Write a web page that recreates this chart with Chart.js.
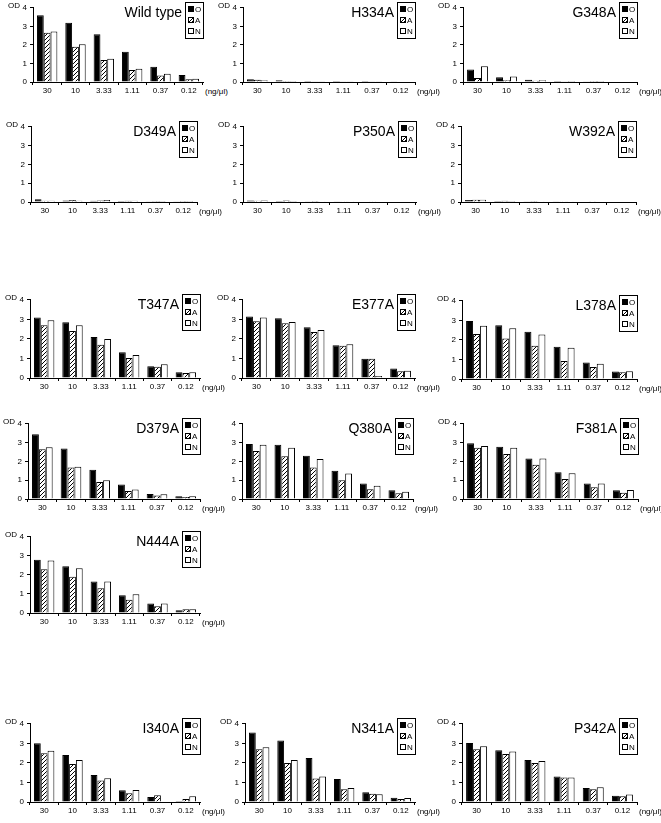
<!DOCTYPE html>
<html><head><meta charset="utf-8">
<script src="https://cdn.jsdelivr.net/npm/chart.js@4/dist/chart.umd.min.js"></script>
<style>
body{margin:0;background:#fff;width:661px;height:823px;position:relative;overflow:hidden;font-family:"Liberation Sans",Arial,sans-serif;color:#000;}
canvas{position:absolute;}
.t{position:absolute;font-size:14px;line-height:15px;white-space:nowrap;}
.od{position:absolute;font-size:8px;line-height:10px;white-space:nowrap;}
.unit{position:absolute;font-size:8px;line-height:10px;white-space:nowrap;}
.lg{position:absolute;border:1px solid #000;background:#fff;font-size:8px;padding:1px 2px 1px 2px;line-height:11px;white-space:nowrap;}
.sw{display:inline-block;width:4px;height:4px;border:1px solid #000;margin-right:1px;vertical-align:0px;}
</style></head><body>
<script>
// ---------- data ----------
const concentrations = ["30","10","3.33","1.11","0.37","0.12"];
const seriesNames = ["O","A","N"];

const wildTypeO = [3.60, 3.20, 2.58, 1.63, 0.82, 0.38];
const wildTypeA = [2.65, 1.90, 1.18, 0.65, 0.35, 0.15];
const wildTypeN = [2.72, 2.03, 1.25, 0.72, 0.45, 0.17];

const h334aO = [0.15, 0.10, 0.05, 0.05, 0.05, 0.04];
const h334aA = [0.12, 0.06, 0.04, 0.04, 0.04, 0.03];
const h334aN = [0.10, 0.05, 0.04, 0.04, 0.04, 0.03];

const g348aO = [0.68, 0.25, 0.12, 0.05, 0.04, 0.03];
const g348aA = [0.22, 0.10, 0.07, 0.04, 0.05, 0.03];
const g348aN = [0.85, 0.30, 0.10, 0.06, 0.06, 0.03];

const d349aO = [0.15, 0.08, 0.06, 0.05, 0.04, 0.04];
const d349aA = [0.07, 0.10, 0.08, 0.06, 0.05, 0.05];
const d349aN = [0.07, 0.07, 0.10, 0.07, 0.05, 0.05];

const p350aO = [0.08, 0.05, 0.04, 0.04, 0.03, 0.03];
const p350aA = [0.07, 0.08, 0.05, 0.04, 0.04, 0.03];
const p350aN = [0.08, 0.05, 0.04, 0.04, 0.03, 0.03];

const w392aO = [0.10, 0.05, 0.04, 0.04, 0.03, 0.03];
const w392aA = [0.12, 0.06, 0.05, 0.04, 0.04, 0.03];
const w392aN = [0.12, 0.05, 0.04, 0.04, 0.03, 0.03];

const t347aO = [3.10, 2.85, 2.10, 1.32, 0.60, 0.30];
const t347aA = [2.70, 2.40, 1.70, 1.02, 0.58, 0.25];
const t347aN = [2.95, 2.70, 2.00, 1.18, 0.70, 0.30];

const e377aO = [3.15, 3.05, 2.60, 1.68, 0.98, 0.48];
const e377aA = [2.90, 2.80, 2.35, 1.65, 0.98, 0.35];
const e377aN = [3.10, 2.87, 2.45, 1.72, 0.10, 0.37];

const l378aO = [2.97, 2.75, 2.42, 1.65, 0.85, 0.38];
const l378aA = [2.30, 2.07, 1.70, 0.92, 0.62, 0.35];
const l378aN = [2.73, 2.60, 2.28, 1.60, 0.78, 0.40];

const d379aO = [3.45, 2.68, 1.55, 0.77, 0.27, 0.15];
const d379aA = [2.65, 1.68, 0.90, 0.42, 0.18, 0.10];
const d379aN = [2.75, 1.72, 1.00, 0.50, 0.25, 0.15];

const q380aO = [2.92, 2.88, 2.30, 1.50, 0.82, 0.47];
const q380aA = [2.55, 2.27, 1.67, 1.00, 0.52, 0.30];
const q380aN = [2.88, 2.73, 2.13, 1.35, 0.70, 0.38];

const f381aO = [2.97, 2.78, 2.15, 1.42, 0.83, 0.47];
const f381aA = [2.72, 2.40, 1.82, 1.07, 0.63, 0.33];
const f381aN = [2.82, 2.73, 2.15, 1.37, 0.83, 0.48];

const n444aO = [2.80, 2.45, 1.65, 0.93, 0.50, 0.15];
const n444aA = [2.30, 1.90, 1.30, 0.70, 0.35, 0.20];
const n444aN = [2.75, 2.35, 1.65, 0.98, 0.50, 0.20];

const i340aO = [3.00, 2.40, 1.38, 0.60, 0.25, 0.05];
const i340aA = [2.50, 1.95, 1.10, 0.45, 0.35, 0.15];
const i340aN = [2.62, 2.15, 1.22, 0.62, 0.02, 0.30];

const n341aO = [3.55, 3.15, 2.25, 1.18, 0.50, 0.22];
const n341aA = [2.70, 2.00, 1.20, 0.65, 0.42, 0.15];
const n341aN = [2.80, 2.15, 1.30, 0.72, 0.40, 0.20];

const p342aO = [3.02, 2.65, 2.15, 1.30, 0.72, 0.32];
const p342aA = [2.70, 2.45, 2.00, 1.25, 0.65, 0.30];
const p342aN = [2.85, 2.58, 2.10, 1.25, 0.75, 0.38];

// ---------- layout (positions only) ----------
const panels = [
  {name:"Wild type", O:wildTypeO, A:wildTypeA, N:wildTypeN, ax:33,  y4:6,   y0:82,  xEnd:203},
  {name:"H334A",     O:h334aO, A:h334aA, N:h334aN, ax:243, y4:6,   y0:82,  xEnd:415},
  {name:"G348A",     O:g348aO, A:g348aA, N:g348aN, ax:463, y4:6,   y0:82,  xEnd:637},
  {name:"D349A",     O:d349aO, A:d349aA, N:d349aN, ax:31,  y4:125, y0:202, xEnd:197},
  {name:"P350A",     O:p350aO, A:p350aA, N:p350aN, ax:243, y4:125, y0:202, xEnd:416},
  {name:"W392A",     O:w392aO, A:w392aA, N:w392aN, ax:461, y4:125, y0:202, xEnd:636},
  {name:"T347A",     O:t347aO, A:t347aA, N:t347aN, ax:30,  y4:298, y0:378, xEnd:200},
  {name:"E377A",     O:e377aO, A:e377aA, N:e377aN, ax:242, y4:298, y0:378, xEnd:415},
  {name:"L378A",     O:l378aO, A:l378aA, N:l378aN, ax:462, y4:299, y0:379, xEnd:637},
  {name:"D379A",     O:d379aO, A:d379aA, N:d379aN, ax:28,  y4:422, y0:499, xEnd:200},
  {name:"Q380A",     O:q380aO, A:q380aA, N:q380aN, ax:242, y4:422, y0:499, xEnd:413, noOD:true},
  {name:"F381A",     O:f381aO, A:f381aA, N:f381aN, ax:463, y4:422, y0:499, xEnd:638},
  {name:"N444A",     O:n444aO, A:n444aA, N:n444aN, ax:30,  y4:535, y0:613, xEnd:200},
  {name:"I340A",     O:i340aO, A:i340aA, N:i340aN, ax:30,  y4:722, y0:802, xEnd:200},
  {name:"N341A",     O:n341aO, A:n341aA, N:n341aN, ax:245, y4:722, y0:802, xEnd:415},
  {name:"P342A",     O:p342aO, A:p342aA, N:p342aN, ax:462, y4:722, y0:802, xEnd:637}
];

// hatch pattern
const pc = document.createElement('canvas'); pc.width = 4; pc.height = 4;
const pg = pc.getContext('2d');
pg.fillStyle = '#fff'; pg.fillRect(0,0,4,4);
pg.fillStyle = '#000';
for (let i = 0; i < 4; i++) pg.fillRect(i, 3 - i, 1, 1);
const hatch = pg.createPattern(pc, 'repeat');

const FONT = '"Liberation Sans", Arial, sans-serif';

function el(cls, text, left, top) {
  const d = document.createElement('div');
  d.className = cls; d.textContent = text;
  d.style.left = left + 'px'; d.style.top = top + 'px';
  document.body.appendChild(d);
  return d;
}

function makePanel(p) {
  const padTop = 6, yW = 20, xH = 16;
  const left = p.ax - yW, top = p.y4 - padTop;
  const w = p.xEnd - left + 2, h = (p.y0 - top) + xH;
  const c = document.createElement('canvas');
  c.width = w; c.height = h;
  c.style.left = left + 'px'; c.style.top = top + 'px';
  c.style.width = w + 'px'; c.style.height = h + 'px';
  document.body.appendChild(c);
  new Chart(c, {
    type: 'bar',
    data: {
      labels: concentrations,
      datasets: [
        {label: seriesNames[0], data: p.O, backgroundColor: '#000', borderColor: '#000', borderWidth: 1},
        {label: seriesNames[1], data: p.A, backgroundColor: hatch, borderColor: '#000', borderWidth: 1},
        {label: seriesNames[2], data: p.N, backgroundColor: '#fff', borderColor: '#000', borderWidth: 1}
      ]
    },
    options: {
      responsive: false, animation: false, devicePixelRatio: 1,
      datasets: {bar: {categoryPercentage: 0.72, barPercentage: 1.0}},
      layout: {padding: {top: padTop, right: 2, left: 0, bottom: 0}},
      plugins: {legend: {display: false}, tooltip: {enabled: false}},
      scales: {
        x: {
          grid: {display: true, offset: true, drawOnChartArea: false, drawTicks: true, tickLength: 3, color: '#000'},
          border: {color: '#000', width: 1},
          ticks: {font: {size: 8, family: FONT}, color: '#000', padding: 1, maxRotation: 0, autoSkip: false},
          afterFit(s) { s.height = xH; }
        },
        y: {
          min: 0, max: 4,
          grid: {display: true, drawOnChartArea: false, drawTicks: true, tickLength: 3, color: '#000'},
          border: {color: '#000', width: 1},
          ticks: {stepSize: 1, font: {size: 8, family: FONT}, color: '#000', padding: 3},
          afterFit(s) { s.width = yW; }
        }
      }
    }
  });
  if (!p.noOD) el('od', 'OD', p.ax - 25, p.y4 - 5);
  el('unit', '(ng/\u03bcl)', p.xEnd + 2, p.y0 + 5);
  const lg = document.createElement('div');
  lg.className = 'lg';
  const styles = ['background:#000', 'background:repeating-linear-gradient(-45deg,#000 0 1px,#fff 1px 2.5px)', 'background:#fff'];
  lg.innerHTML = seriesNames.map((s, i) => '<div><span class="sw" style="' + styles[i] + '"></span>' + s + '</div>').join('');
  document.body.appendChild(lg);
  const lgW = 16;
  lg.style.left = (p.xEnd - lgW - 2) + 'px';
  lg.style.top = (p.y4 - 4) + 'px';
  const t = el('t', p.name, 0, p.y4 - 1);
  t.style.left = '';
  t.style.right = (661 - (p.xEnd - lgW - 5)) + 'px';
}

panels.forEach(makePanel);
</script>
</body></html>
